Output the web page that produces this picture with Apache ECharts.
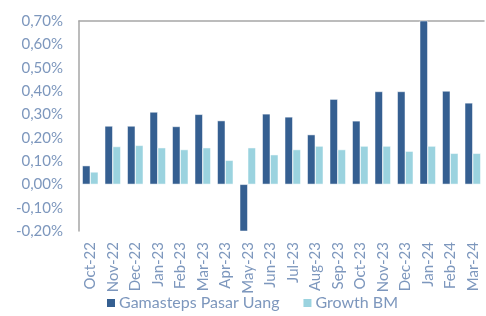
<!DOCTYPE html>
<html>
<head>
    <meta charset="utf-8">
    <script src="https://cdn.jsdelivr.net/npm/echarts@6/dist/echarts.min.js"></script>
    <style>
        html, body { margin: 0; padding: 0; background: #fff; }
    </style>
</head>
<body>
    <div id="main" style="width: 486px;height:316px;"></div>
    <script type="text/javascript">
        var categories = ['Oct-22', 'Nov-22', 'Dec-22', 'Jan-23', 'Feb-23', 'Mar-23', 'Apr-23', 'May-23', 'Jun-23',
            'Jul-23', 'Aug-23', 'Sep-23', 'Oct-23', 'Nov-23', 'Dec-23', 'Jan-24', 'Feb-24', 'Mar-24'];
        var gamasteps = [0.08, 0.25, 0.25, 0.31, 0.248, 0.30, 0.273, -0.21, 0.302,
            0.289, 0.213, 0.365, 0.272, 0.398, 0.398, 0.704, 0.40, 0.349];
        var growthBM = [0.053, 0.162, 0.167, 0.157, 0.149, 0.157, 0.103, 0.157, 0.127,
            0.149, 0.164, 0.149, 0.164, 0.164, 0.142, 0.164, 0.133, 0.133];

        var textColor = '#7d97bd';
        var myChart = echarts.init(document.getElementById('main'));

        var option = {
            animation: false,
            textStyle: { fontFamily: 'Lato' },
            grid: { left: 79, right: 2, top: 21, bottom: 85 },
            legend: {
                bottom: 0,
                left: 100,
                itemWidth: 10,
                itemHeight: 10,
                itemGap: 22,
                icon: 'rect',
                textStyle: { color: textColor, fontSize: 16, fontFamily: 'Lato', padding: [0, 0, 0, -2] },
                data: ['Gamasteps Pasar Uang', 'Growth BM']
            },
            xAxis: [{
                type: 'category',
                data: categories,
                position: 'bottom',
                axisLine: { show: false },
                axisTick: { show: false },
                axisLabel: {
                    rotate: 90,
                    color: textColor,
                    fontSize: 15,
                    margin: 11,
                    interval: 0
                }
            }, {
                type: 'category',
                data: categories,
                position: 'top',
                axisLine: { onZero: true, lineStyle: { color: '#a6a6a6', width: 1.5 } },
                axisTick: { show: false },
                axisLabel: { show: false }
            }],
            yAxis: {
                type: 'value',
                min: -0.2,
                max: 0.7,
                interval: 0.1,
                splitLine: { show: false },
                axisLine: { show: true, lineStyle: { color: '#a6a6a6', width: 1.5 } },
                axisTick: { show: false },
                axisLabel: {
                    color: textColor,
                    fontSize: 15,
                    margin: 16,
                    formatter: function (v) {
                        return v.toFixed(2).replace('.', ',') + '%';
                    }
                }
            },
            series: [{
                name: 'Gamasteps Pasar Uang',
                type: 'bar',
                data: gamasteps,
                barWidth: 8,
                barGap: '0%',
                itemStyle: { color: '#355f91', borderColor: '#fff', borderWidth: 0.5 }
            }, {
                name: 'Growth BM',
                type: 'bar',
                data: growthBM,
                barWidth: 8,
                itemStyle: { color: '#9bd3df', borderColor: '#fff', borderWidth: 0.5 }
            }]
        };
        myChart.setOption(option);
    </script>
</body>
</html>
